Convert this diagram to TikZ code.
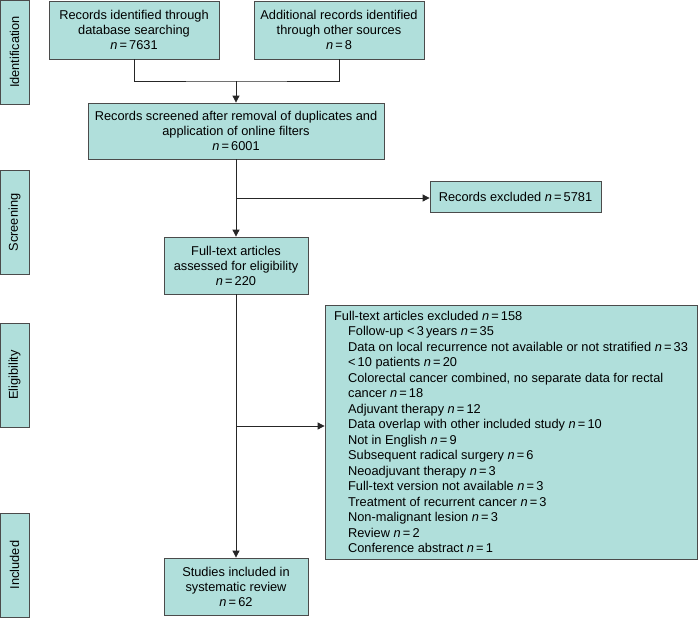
\documentclass[tikz,border=0pt]{standalone}
\usepackage{fontspec}
\setmainfont{Liberation Sans}
\usetikzlibrary{arrows.meta,positioning}
\definecolor{boxfill}{RGB}{176,223,219}
\definecolor{boxline}{RGB}{75,75,75}
\newcommand{\nval}[1]{\textit{n}\,=\,#1}

\begin{document}
\begin{tikzpicture}[x=1pt, y=-1pt,
  every node/.style={font=\fontsize{12.8}{15}\selectfont},
  box/.style={draw=boxline, fill=boxfill, line width=0.8pt, align=center, inner sep=2pt},
  stage/.style={box, rotate=90, minimum width=104pt, minimum height=29pt},
  flow/.style={draw=black!85, line width=0.8pt},
  arr/.style={flow, -{Triangle[length=7pt,width=7pt]}}]
  \useasboundingbox (0,0) rectangle (698,618);

  \node[stage] (idn) at (14.5,52) {Identification};
  \node[stage] (scr) at (14.5,222.5) {Screening};
  \node[stage] (elg) at (14.5,375) {Eligibility};
  \node[stage] (inc) at (14.5,565) {Included};

  \node[box, minimum width=170pt, minimum height=58pt] (dbrec) at (134,30)
    {Records identified through\\database searching\\\nval{7631}};
  \node[box, minimum width=170pt, minimum height=58pt] (other) at (339,30)
    {Additional records identified\\through other sources\\\nval{8}};
  \node[box, minimum width=296pt, minimum height=56pt] (screened) at (236,131)
    {Records screened after removal of duplicates and\\application of online filters\\\nval{6001}};
  \node[box, minimum width=171pt, minimum height=31pt] (recexcl) at (515.5,197)
    {Records excluded \nval{5781}};
  \node[box, minimum width=144pt, minimum height=57pt] (fulltext) at (236,265.5)
    {Full-text articles\\assessed for eligibility\\\nval{220}};
  \node[box, minimum width=144pt, minimum height=57pt] (studies) at (236,586.5)
    {Studies included in\\systematic review\\\nval{62}};
  \node[box, align=left, minimum width=372pt, inner xsep=2pt, inner ysep=5pt, minimum height=254pt,
    font=\fontsize{12.8}{15.5}\selectfont] (ftexcl) at (511,432)
    {Full-text articles excluded \nval{158}\\
     \hspace*{14pt}Follow-up <\,3\,years \nval{35}\\
     \hspace*{14pt}Data on local recurrence not available or not stratified \nval{33}\\
     \hspace*{14pt}<\,10 patients \nval{20}\\
     \hspace*{14pt}Colorectal cancer combined, no separate data for rectal\\
     \hspace*{14pt}cancer \nval{18}\\
     \hspace*{14pt}Adjuvant therapy \nval{12}\\
     \hspace*{14pt}Data overlap with other included study \nval{10}\\
     \hspace*{14pt}Not in English \nval{9}\\
     \hspace*{14pt}Subsequent radical surgery \nval{6}\\
     \hspace*{14pt}Neoadjuvant therapy \nval{3}\\
     \hspace*{14pt}Full-text version not available \nval{3}\\
     \hspace*{14pt}Treatment of recurrent cancer \nval{3}\\
     \hspace*{14pt}Non-malignant lesion \nval{3}\\
     \hspace*{14pt}Review \nval{2}\\
     \hspace*{14pt}Conference abstract \nval{1}};

  \coordinate (merge) at (236,81);
  \coordinate (split1) at (236,198);
  \coordinate (split2) at (236,426);

  \draw[flow] (dbrec.south) |- (merge) -| (other.south);
  \draw[arr] (merge) -- (screened.north);
  \draw[arr] (screened.south) -- (fulltext.north);
  \draw[arr] (split1) -- (split1 -| recexcl.west);
  \draw[arr] (fulltext.south) -- (studies.north);
  \draw[arr] (split2) -- (split2 -| ftexcl.west);
\end{tikzpicture}
\end{document}
